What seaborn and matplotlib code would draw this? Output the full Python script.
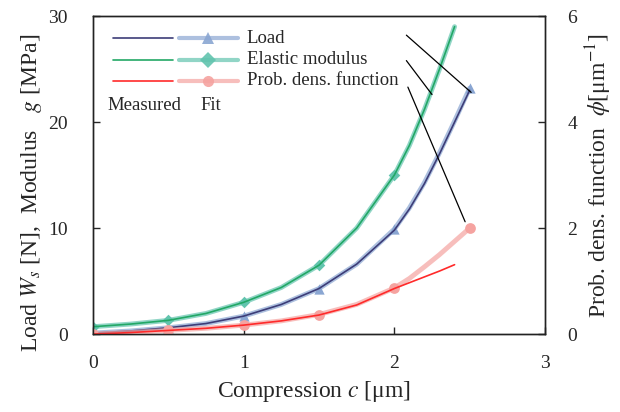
import numpy as np
import pandas as pd
import matplotlib
matplotlib.use("Agg")
import matplotlib.pyplot as plt
import seaborn as sns

# -------------------------------
# Data
# -------------------------------
c_curve = [0.0, 0.25, 0.5, 0.75, 1.0, 1.25, 1.5, 1.75, 2.0, 2.1, 2.2, 2.3, 2.4, 2.5]
load_meas = [0.1, 0.3, 0.6, 1.0, 1.7, 2.8, 4.3, 6.6, 9.8, 11.8, 14.2, 17.0, 20.0, 23.0]
mod_meas = [0.7, 0.95, 1.3, 1.95, 3.0, 4.4, 6.5, 10.0, 15.0, 17.8, 21.2, 25.0, 29.0]
pdf_meas = [0.0, 0.03, 0.07, 0.11, 0.17, 0.25, 0.36, 0.55, 0.86, 0.97, 1.08, 1.19, 1.31]
load_fitc = [0.1, 0.3, 0.6, 1.0, 1.7, 2.8, 4.3, 6.6, 9.9, 11.9, 14.3, 17.1, 20.1, 23.2]
mod_fitc = [0.7, 0.95, 1.3, 1.95, 3.0, 4.4, 6.5, 10.0, 15.0, 17.8, 21.2, 25.0, 29.0]
pdf_fitc = [0.0, 0.03, 0.07, 0.11, 0.17, 0.25, 0.37, 0.56, 0.87, 1.05, 1.27, 1.5, 1.75, 2.0]

c_fit = [0.0, 0.5, 1.0, 1.5, 2.0, 2.5]
load_fit = [0.1, 0.6, 1.7, 4.3, 9.9, 23.2]
mod_fit = [0.7, 1.3, 3.0, 6.5, 15.0]
pdf_fit = [0.0, 0.07, 0.17, 0.37, 0.87, 2.0]

labels = ["Load", "Elastic modulus", "Prob. dens. function"]

# -------------------------------
# Style
# -------------------------------
sns.set_style("ticks")
plt.rcParams["font.family"] = ["Liberation Serif", "DejaVu Serif"]
plt.rcParams["mathtext.fontset"] = "stix"
plt.rcParams["xtick.direction"] = "in"
plt.rcParams["ytick.direction"] = "in"

c_load_m, c_load_f = "#3d3d78", "#8aa6d2"
c_mod_m, c_mod_f = "#22a866", "#62c4ae"
c_pdf_m, c_pdf_f = "#ff2a2a", "#f5a3a0"

fig = plt.figure(figsize=(6.2, 4.12), dpi=100)
ax = fig.add_axes([0.150, 0.189, 0.729, 0.772])
ax2 = ax.twinx()

# fits (thick, with markers)
sns.lineplot(x=c_curve, y=load_fitc, ax=ax, color=c_load_f, lw=3.5, alpha=0.7)
sns.lineplot(x=c_curve[:len(mod_fitc)], y=mod_fitc, ax=ax, color=c_mod_f, lw=3.5, alpha=0.7)
sns.lineplot(x=c_curve, y=pdf_fitc, ax=ax2, color=c_pdf_f, lw=3.5, alpha=0.7)
sns.scatterplot(x=c_fit, y=load_fit, ax=ax, color=c_load_f, marker="^", s=55, linewidth=0)
sns.scatterplot(x=c_fit[:len(mod_fit)], y=mod_fit, ax=ax, color=c_mod_f, marker="D", s=35, linewidth=0)
sns.scatterplot(x=c_fit, y=pdf_fit, ax=ax2, color=c_pdf_f, marker="o", s=60, linewidth=0)

# measured (thin)
sns.lineplot(x=c_curve, y=load_meas, ax=ax, color=c_load_m, lw=1.2)
sns.lineplot(x=c_curve[:len(mod_meas)], y=mod_meas, ax=ax, color=c_mod_m, lw=1.2)
sns.lineplot(x=c_curve[:len(pdf_meas)], y=pdf_meas, ax=ax2, color=c_pdf_m, lw=1.2)

# leader lines
ax.plot([2.08, 2.51], [28.2, 22.8], color="black", lw=0.9)
ax.plot([2.08, 2.25], [25.8, 22.6], color="black", lw=0.9)
ax.plot([2.09, 2.47], [23.3, 10.6], color="black", lw=0.9)

# axes
ax.set_xlim(0, 3)
ax.set_ylim(0, 30)
ax2.set_ylim(0, 6)
ax.set_xticks([0, 1, 2, 3])
ax.set_yticks([0, 10, 20, 30])
ax2.set_yticks([0, 2, 4, 6])
ax.tick_params(axis="x", labelsize=14, length=5, width=1.0, pad=15)
ax.tick_params(axis="y", labelsize=14, length=5, width=1.0, pad=18)
ax2.tick_params(labelsize=14, length=5, width=1.0, pad=16)
ax.set_xlabel(r"Compression $c$ [μm]", fontsize=17)
ax.set_ylabel(r"Load $W_s$ [N],  Modulus   $g$ [MPa]", fontsize=17)
ax2.set_ylabel(r"Prob. dens. function  $\phi$[μm$^{-1}$]", fontsize=17)
ax.xaxis.set_label_coords(0.49, -0.14)
ax.yaxis.set_label_coords(-0.108, 0.443)
ax2.yaxis.set_label_coords(1.085, 0.5)
for a in (ax, ax2):
    for s in a.spines.values():
        s.set_linewidth(1.0)
        s.set_color("#222222")

# hand-made legend
colors_m = [c_load_m, c_mod_m, c_pdf_m]
colors_f = [c_load_f, c_mod_f, c_pdf_f]
markers = ["^", "D", "o"]
ys = [0.931, 0.862, 0.796]
for lab, cm, cf, mk, yy in zip(labels, colors_m, colors_f, markers, ys):
    ax.plot([0.044, 0.177], [yy, yy], transform=ax.transAxes, color=cm, lw=1.2)
    ax.plot([0.19, 0.32], [yy, yy], transform=ax.transAxes, color=cf, lw=3, alpha=0.7)
    ax.plot([0.255], [yy], transform=ax.transAxes, color=cf, marker=mk,
            markersize=8, markeredgewidth=0, alpha=0.9)
    ax.text(0.34, yy, lab, transform=ax.transAxes, fontsize=13.5, va="center")
ax.text(0.031, 0.72, "Measured", transform=ax.transAxes, fontsize=13.5, va="center")
ax.text(0.237, 0.72, "Fit", transform=ax.transAxes, fontsize=13.5, va="center")

plt.savefig("out.png", dpi=100)
